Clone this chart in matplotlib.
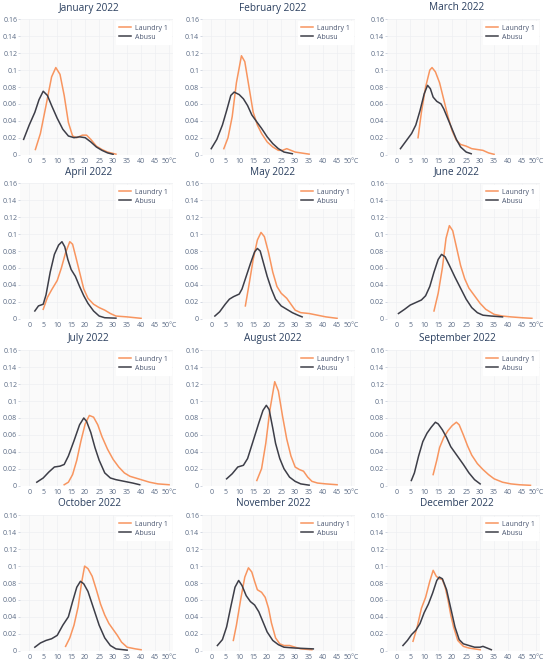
import matplotlib
matplotlib.use("Agg")
import matplotlib.pyplot as plt

plt.rcParams['font.family'] = ['Open Sans', 'DejaVu Sans']

# ---- data (temperature in degC, density) ---------------------------------------
months = ["January 2022", "February 2022", "March 2022",
          "April 2022", "May 2022", "June 2022",
          "July 2022", "August 2022", "September 2022",
          "October 2022", "November 2022", "December 2022"]

series_names = ["Laundry 1", "Abusu"]

laundry = [
    [(2.2,0.006),(4,0.025),(6,0.058),(8,0.092),(9.5,0.103),(11,0.095),(12.5,0.07),(14,0.038),(15.5,0.022),(17,0.02),(19,0.023),(20.5,0.023),(22,0.018),(24,0.01),(26,0.006),(28,0.003),(31,0.0005)],
    [(4.5,0.007),(6,0.02),(7.5,0.045),(9,0.085),(10.8,0.117),(12,0.11),(13.5,0.08),(15,0.05),(16.5,0.035),(18,0.025),(20,0.015),(22,0.009),(24,0.005),(25.5,0.005),(27,0.007),(28.5,0.005),(30,0.003),(33,0.0015),(35,0.0005)],
    [(7.8,0.02),(9,0.05),(10.5,0.08),(12,0.1),(12.8,0.103),(14,0.098),(15.5,0.085),(17,0.065),(18.5,0.045),(20,0.028),(21.5,0.017),(23,0.012),(25,0.01),(27,0.007),(29,0.006),(31,0.005),(33,0.002),(35,0.0003)],
    [(5,0.011),(6.5,0.025),(8,0.034),(10,0.045),(11.5,0.06),(13,0.078),(14.5,0.091),(15.5,0.088),(16.5,0.075),(18,0.055),(19.5,0.035),(21,0.024),(23,0.017),(25,0.013),(27,0.01),(29,0.006),(31,0.003),(35,0.002),(40,0.0003)],
    [(12.2,0.015),(13.5,0.04),(15,0.07),(16.5,0.093),(17.8,0.102),(19,0.097),(20.5,0.078),(22,0.055),(23.5,0.038),(25,0.03),(27,0.024),(28.5,0.017),(30,0.01),(32,0.007),(35,0.006),(38,0.004),(41,0.002),(45,0.0003)],
    [(13.5,0.009),(15,0.03),(16.5,0.06),(17.8,0.095),(19,0.11),(20.2,0.104),(21.5,0.085),(23,0.063),(24.5,0.047),(26,0.036),(28,0.027),(30,0.018),(32,0.011),(35,0.005),(38,0.003),(41,0.002),(45,0.001),(48.5,0.0003)],
    [(12.5,0.001),(14,0.004),(15.5,0.013),(17,0.03),(18.5,0.053),(20,0.073),(21.5,0.083),(23,0.081),(24.5,0.072),(26,0.058),(28,0.043),(30,0.031),(32,0.022),(34,0.015),(36,0.011),(38,0.009),(40,0.007),(43,0.004),(46,0.002),(50,0.001)],
    [(16.3,0.006),(18,0.02),(19.5,0.05),(21,0.09),(22.7,0.123),(24,0.112),(25.5,0.082),(27,0.055),(28.5,0.035),(30,0.022),(31.5,0.019),(33,0.017),(34.5,0.01),(36,0.005),(38,0.003),(41,0.002),(45,0.001)],
    [(13.2,0.013),(14.5,0.03),(15.5,0.045),(17,0.057),(18.5,0.065),(20,0.071),(21.5,0.075),(22.5,0.072),(24,0.06),(25.5,0.047),(27,0.036),(29,0.026),(31,0.019),(33,0.013),(35,0.008),(38,0.004),(41,0.002),(44,0.001),(48,0.0003)],
    [(13,0.005),(14.5,0.015),(16,0.03),(17.5,0.052),(18.7,0.08),(19.8,0.1),(21,0.097),(22.5,0.088),(24,0.072),(25.5,0.055),(27,0.042),(28.5,0.032),(30,0.025),(31.5,0.018),(33,0.01),(35,0.004),(38,0.002),(40,0.001)],
    [(7.9,0.012),(9,0.03),(10.5,0.06),(12,0.087),(13.3,0.098),(14.5,0.093),(15.5,0.082),(16.5,0.072),(18,0.069),(19.3,0.063),(20.5,0.05),(21.5,0.033),(23,0.015),(24.5,0.008),(26,0.006),(28,0.006),(30,0.004),(32,0.002),(36,0.001)],
    [(6,0.011),(7.5,0.028),(9,0.05),(10.5,0.063),(12,0.082),(13.2,0.095),(14.3,0.088),(15.5,0.085),(16.5,0.084),(17.5,0.075),(18.5,0.06),(19.5,0.042),(20.5,0.028),(22,0.012),(24,0.005),(26,0.003),(28,0.002),(30,0.001)],
]

abusu = [
    [(-2,0.018),(0,0.035),(2,0.05),(3.5,0.065),(5,0.075),(6.5,0.07),(8,0.058),(10,0.043),(12,0.03),(14,0.022),(16,0.02),(18,0.021),(20,0.02),(22,0.015),(24,0.009),(26,0.005),(28,0.002),(30,0.0003)],
    [(0,0.007),(2,0.018),(4,0.035),(5.5,0.052),(7,0.07),(8.2,0.074),(10,0.071),(11.5,0.066),(13,0.058),(14.5,0.047),(16,0.04),(18,0.031),(20,0.021),(22,0.013),(24,0.007),(26,0.003),(29,0.001)],
    [(1.5,0.007),(3.5,0.016),(5.5,0.025),(7,0.035),(8.5,0.052),(10,0.072),(11.2,0.082),(12.2,0.078),(13.2,0.068),(14.5,0.063),(16,0.06),(17,0.054),(18.5,0.042),(20,0.03),(21.5,0.018),(23,0.009),(25,0.003),(26.8,0.001)],
    [(2,0.009),(3.3,0.015),(5,0.017),(6,0.028),(7.5,0.055),(9,0.076),(10.5,0.087),(11.7,0.091),(12.7,0.085),(13.8,0.07),(15,0.058),(16.5,0.05),(18,0.038),(19.5,0.027),(21,0.018),(23,0.009),(25,0.003),(27,0.001),(31,0.0005)],
    [(1.3,0.003),(3,0.008),(5,0.017),(6.5,0.023),(8,0.026),(10,0.029),(11,0.035),(12.5,0.05),(14,0.065),(15.5,0.079),(16.5,0.083),(17.5,0.08),(18.5,0.068),(20,0.05),(21.5,0.035),(23,0.023),(25,0.015),(27,0.011),(29,0.007),(31,0.004),(32.5,0.002)],
    [(0.8,0.006),(3,0.011),(5,0.016),(7,0.019),(9,0.022),(10.5,0.027),(12,0.038),(13.5,0.055),(15,0.07),(16.2,0.076),(17.5,0.073),(19,0.063),(21,0.049),(23,0.036),(25,0.023),(27,0.013),(29,0.007),(31,0.004),(34,0.003),(38,0.002)],
    [(2.7,0.004),(5,0.009),(7,0.016),(9,0.022),(11,0.023),(12.5,0.025),(14,0.035),(16,0.053),(18,0.072),(19.5,0.08),(20.5,0.076),(22,0.063),(23.5,0.045),(25,0.03),(27,0.015),(29,0.009),(31,0.007),(34,0.005),(37,0.003),(39.5,0.001)],
    [(5.5,0.008),(7.5,0.014),(9.5,0.022),(11.5,0.024),(13,0.032),(15,0.053),(17,0.074),(18.5,0.089),(19.7,0.095),(20.7,0.09),(22,0.068),(23,0.05),(24.5,0.032),(26,0.02),(28,0.01),(30,0.005),(32,0.002),(35,0.0005)],
    [(5.4,0.006),(6.5,0.015),(8,0.035),(9.5,0.052),(11,0.062),(12.5,0.069),(14,0.075),(15,0.073),(16.5,0.066),(18,0.057),(19.5,0.046),(21,0.039),(22.5,0.032),(24,0.025),(26,0.015),(28,0.007),(30,0.002)],
    [(2,0.004),(4,0.009),(6,0.012),(8,0.014),(10,0.018),(12,0.03),(14,0.04),(15.5,0.058),(17,0.075),(18.3,0.082),(19.5,0.079),(21,0.07),(23,0.05),(25,0.03),(27,0.015),(29,0.006),(31,0.002),(35,0.0005)],
    [(2.2,0.006),(4,0.013),(5.5,0.028),(7,0.052),(8.5,0.075),(9.8,0.083),(11,0.077),(12.5,0.065),(14,0.058),(15.5,0.054),(17,0.046),(18.5,0.034),(20,0.022),(22,0.012),(24,0.007),(26,0.004),(30,0.003),(36.5,0.002)],
    [(2.4,0.006),(4,0.012),(5.5,0.019),(7,0.024),(8.5,0.032),(10,0.045),(11.5,0.055),(13,0.068),(14.5,0.083),(15.4,0.087),(16.5,0.085),(18,0.072),(19.5,0.05),(21,0.028),(22.5,0.013),(24,0.008),(26,0.006),(28,0.004),(30,0.004),(31,0.005),(32.5,0.003),(34,0.001)],
]

xticks = [0, 5, 10, 15, 20, 25, 30, 35, 40, 45, 50]
xticklabels = ["0", "5", "10", "15", "20", "25", "30", "35", "40", "45", "50°C"]
yticks = [0, 0.02, 0.04, 0.06, 0.08, 0.1, 0.12, 0.14, 0.16]
yticklabels = ["0", "0.02", "0.04", "0.06", "0.08", "0.1", "0.12", "0.14", "0.16"]

# ---- layout / styling -----------------------------------------------------------
W, H = 550, 663
col_left = [20, 202, 387]      # px
col_w = 153
row_top = [19, 183, 350, 515]  # px
row_h = 136
title_x = [89, 273, 457]

ORANGE = '#f8955f'
DARK = '#3d3e48'
TXT = '#2a3f5f'
TICK = '#5b6b85'

fig = plt.figure(figsize=(W/100, H/100), dpi=100)

for i, month in enumerate(months):
    r, c = divmod(i, 3)
    ax = fig.add_axes([col_left[c]/W, 1 - (row_top[r] + row_h)/H, col_w/W, row_h/H])
    ax.set_facecolor('#fafafa')

    lx, ly = zip(*laundry[i])
    ax_, ay = zip(*abusu[i])
    ax.plot(lx, ly, color=ORANGE, lw=1.1, label=series_names[0], solid_joinstyle='round')
    ax.plot(ax_, ay, color=DARK, lw=1.1, label=series_names[1], solid_joinstyle='round')

    ax.set_xlim(-3.3, 51.4)
    ax.set_ylim(-0.0005, 0.1605)
    ax.set_xticks(xticks)
    ax.set_xticklabels(xticklabels)
    ax.set_yticks(yticks)
    ax.set_yticklabels(yticklabels)
    ax.tick_params(axis='both', labelsize=5.0, labelcolor=TICK, length=0, pad=2.5)
    ax.tick_params(axis='y', length=1.5, width=0.5, color='#c0c8d6', pad=0.5)
    ax.grid(True, color='#eeeff2', lw=0.5)
    ax.set_axisbelow(True)
    for s in ax.spines.values():
        s.set_visible(False)

    leg = ax.legend(loc='upper right', fontsize=5.0, frameon=True, fancybox=False,
                    handlelength=1.7, handletextpad=0.5, borderpad=0.5,
                    labelspacing=0.3, borderaxespad=0.3)
    leg.get_frame().set_facecolor('white')
    leg.get_frame().set_edgecolor('white')
    leg.get_frame().set_alpha(1)
    for t in leg.get_texts():
        t.set_color('#4a5670')

    fig.text(title_x[c]/W, 1 - (row_top[r] - 11)/H, month, ha='center', va='center',
             fontsize=7.2, color=TXT)

fig.savefig('out.png', dpi=100, facecolor='white')
